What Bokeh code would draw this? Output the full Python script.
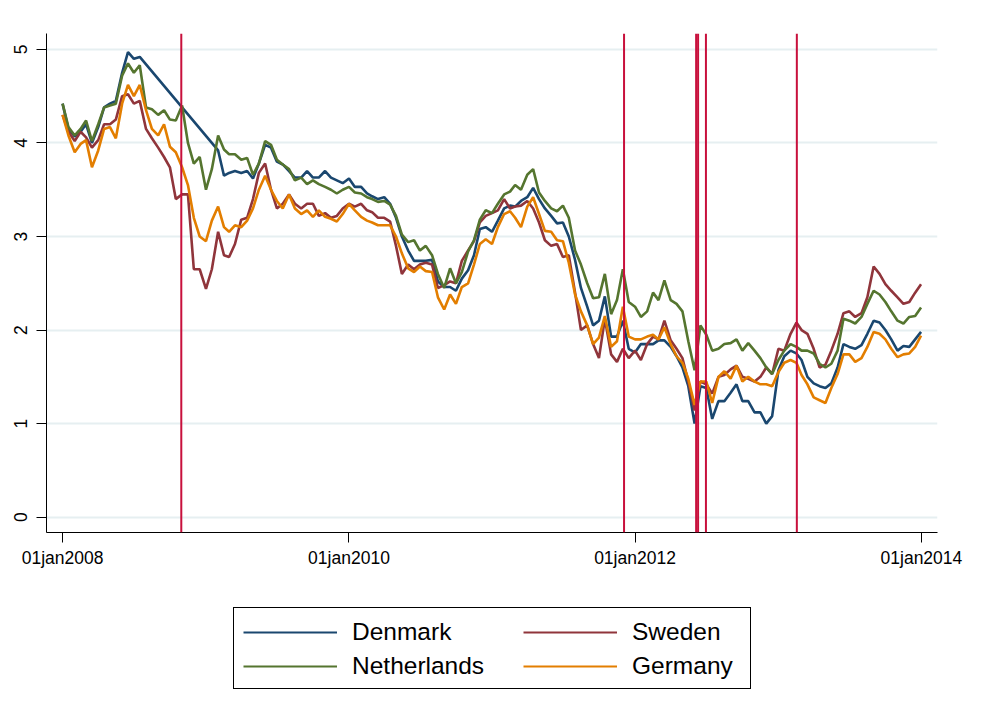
from datetime import datetime
import pandas as pd
from bokeh.plotting import figure
from bokeh.layouts import column
from bokeh.models import (ColumnDataSource, Range1d, FixedTicker, Span, Legend, LegendItem)
from bokeh.embed import file_html
from bokeh.resources import INLINE

# ---------------- data (semi-monthly) ----------------
dates = [f"{y}-{m:02d}-{d:02d}" for y in range(2008, 2014) for m in range(1, 13) for d in (1, 16)] + ["2013-12-31"]

denmark = [
    4.42, 4.15, 4.07, 4.12, 4.20, 4.00, 4.17, 4.38, 4.42, 4.45, 4.75, 4.97,
    4.90, 4.92, None, None, None, None, None, None, None, None, None, None,
    None, None, 3.92, 3.65, 3.68, 3.70, 3.68, 3.70, 3.62, 3.78, 3.98, 3.95,
    3.80, 3.77, 3.70, 3.63, 3.63, 3.70, 3.63, 3.63, 3.70, 3.63, 3.60, 3.57,
    3.62, 3.53, 3.53, 3.46, 3.43, 3.40, 3.42, 3.35, 3.20, 3.00, 2.85, 2.74,
    2.74, 2.74, 2.75, 2.52, 2.46, 2.46, 2.42, 2.55, 2.64, 2.80, 3.08, 3.10,
    3.05, 3.17, 3.30, 3.33, 3.32, 3.38, 3.42, 3.52, 3.40, 3.30, 3.22, 3.14,
    3.15, 3.00, 2.75, 2.45, 2.25, 2.05, 2.10, 2.36, 1.93, 1.93, 2.10, 1.80,
    1.76, 1.85, 1.85, 1.85, 1.89, 1.89, 1.82, 1.72, 1.60, 1.40, 1.00, 1.40,
    1.38, 1.05, 1.24, 1.24, 1.33, 1.42, 1.24, 1.24, 1.12, 1.12, 1.00, 1.08,
    1.57, 1.72, 1.78, 1.75, 1.68, 1.50, 1.43, 1.40, 1.38, 1.43, 1.60, 1.85,
    1.82, 1.80, 1.84, 1.96, 2.10, 2.08, 2.00, 1.90, 1.78, 1.83, 1.82, 1.90,
    1.98,
]
sweden = [
    4.30, 4.12, 4.02, 4.12, 4.06, 3.95, 4.03, 4.20, 4.20, 4.25, 4.50, 4.52,
    4.42, 4.45, 4.15, 4.05, 3.95, 3.85, 3.74, 3.40, 3.45, 3.45, 2.65, 2.65,
    2.44, 2.65, 3.05, 2.80, 2.78, 2.92, 3.18, 3.20, 3.40, 3.68, 3.78, 3.50,
    3.30, 3.35, 3.45, 3.35, 3.30, 3.35, 3.35, 3.22, 3.25, 3.20, 3.22, 3.30,
    3.35, 3.32, 3.35, 3.28, 3.26, 3.20, 3.20, 3.16, 2.90, 2.60, 2.70, 2.65,
    2.70, 2.72, 2.70, 2.45, 2.48, 2.52, 2.50, 2.74, 2.85, 2.95, 3.15, 3.22,
    3.25, 3.28, 3.40, 3.30, 3.32, 3.33, 3.38, 3.30, 3.15, 2.96, 2.90, 2.92,
    2.78, 2.80, 2.40, 2.00, 2.05, 1.85, 1.70, 2.12, 1.74, 1.66, 1.80, 1.70,
    1.78, 1.68, 1.85, 1.93, 1.90, 2.10, 1.89, 1.80, 1.70, 1.45, 1.14, 1.45,
    1.42, 1.32, 1.50, 1.52, 1.58, 1.62, 1.50, 1.48, 1.45, 1.50, 1.60, 1.53,
    1.80, 1.78, 1.96, 2.08, 2.00, 1.96, 1.80, 1.60, 1.63, 1.78, 1.96, 2.18,
    2.20, 2.14, 2.18, 2.35, 2.68, 2.60, 2.49, 2.42, 2.35, 2.28, 2.30, 2.40,
    2.49,
]
netherlands = [
    4.42, 4.17, 4.08, 4.15, 4.24, 4.02, 4.20, 4.38, 4.40, 4.42, 4.72, 4.85,
    4.75, 4.83, 4.38, 4.36, 4.30, 4.35, 4.25, 4.24, 4.40, 4.00, 3.78, 3.85,
    3.50, 3.72, 4.08, 3.93, 3.88, 3.88, 3.82, 3.84, 3.66, 3.78, 4.02, 3.98,
    3.82, 3.77, 3.72, 3.60, 3.63, 3.56, 3.60, 3.56, 3.53, 3.50, 3.46, 3.50,
    3.53, 3.47, 3.46, 3.42, 3.40, 3.37, 3.38, 3.34, 3.22, 3.02, 2.94, 2.96,
    2.85, 2.90, 2.80, 2.60, 2.45, 2.66, 2.50, 2.62, 2.84, 2.96, 3.18, 3.28,
    3.25, 3.35, 3.45, 3.48, 3.55, 3.50, 3.66, 3.72, 3.47, 3.38, 3.30, 3.27,
    3.33, 3.20, 2.85, 2.70, 2.50, 2.34, 2.35, 2.60, 2.17, 2.32, 2.65, 2.30,
    2.25, 2.14, 2.20, 2.40, 2.32, 2.53, 2.32, 2.28, 2.20, 1.88, 1.57, 2.05,
    1.95, 1.78, 1.80, 1.85, 1.86, 1.90, 1.78, 1.86, 1.78, 1.70, 1.60, 1.53,
    1.68, 1.78, 1.85, 1.82, 1.78, 1.78, 1.75, 1.64, 1.60, 1.64, 1.78, 2.12,
    2.10, 2.07, 2.14, 2.28, 2.42, 2.38, 2.30, 2.20, 2.10, 2.07, 2.14, 2.15,
    2.24,
]
germany = [
    4.30, 4.08, 3.90, 3.99, 4.03, 3.74, 3.92, 4.15, 4.17, 4.05, 4.42, 4.62,
    4.50, 4.62, 4.35, 4.15, 4.08, 4.20, 3.96, 3.90, 3.74, 3.55, 3.20, 3.00,
    2.95, 3.17, 3.32, 3.10, 3.05, 3.12, 3.10, 3.17, 3.30, 3.50, 3.65, 3.50,
    3.38, 3.30, 3.45, 3.30, 3.24, 3.28, 3.21, 3.28, 3.21, 3.19, 3.16, 3.24,
    3.35, 3.28, 3.21, 3.17, 3.15, 3.12, 3.12, 3.12, 3.00, 2.82, 2.66, 2.62,
    2.68, 2.63, 2.62, 2.35, 2.22, 2.38, 2.28, 2.46, 2.50, 2.70, 2.92, 2.97,
    2.92, 3.10, 3.24, 3.27, 3.20, 3.10, 3.32, 3.42, 3.24, 3.06, 3.05, 2.96,
    2.95, 2.72, 2.38, 2.20, 2.05, 1.85, 1.92, 2.15, 1.82, 1.88, 2.25, 1.93,
    1.90, 1.90, 1.93, 1.95, 1.90, 2.03, 1.85, 1.72, 1.65, 1.48, 1.20, 1.45,
    1.45, 1.22, 1.50, 1.56, 1.48, 1.62, 1.45, 1.50, 1.45, 1.42, 1.42, 1.40,
    1.55, 1.65, 1.68, 1.65, 1.52, 1.42, 1.28, 1.25, 1.22, 1.38, 1.53, 1.74,
    1.74, 1.66, 1.70, 1.82, 1.98, 1.96, 1.90, 1.80, 1.71, 1.74, 1.75, 1.82,
    1.94,
]

event_dates = ["2008-10-30", "2011-12-04", "2012-06-05", "2012-06-10", "2012-06-30", "2013-02-17"]

series_names = ["Denmark", "Sweden", "Netherlands", "Germany"]
series_colors = ["#1a476f", "#90353b", "#55752f", "#e37e00"]

xtick_dates = ["2008-01-01", "2010-01-01", "2012-01-01", "2014-01-01"]
xtick_labels = ["01jan2008", "01jan2010", "01jan2012", "01jan2014"]
ytick_values = [0, 1, 2, 3, 4, 5]

FONT = "Liberation Sans"
W = 980

# ---------------- main chart ----------------
p = figure(width=W, height=578, output_backend="svg", toolbar_location=None,
           x_axis_type="datetime",
           x_range=Range1d(datetime(2007, 11, 21), datetime(2014, 2, 11)),
           y_range=Range1d(-0.164, 5.17),
           min_border_left=46, min_border_right=W - 937, min_border_top=33, min_border_bottom=46)
p.outline_line_color = None
p.background_fill_color = "white"
p.border_fill_color = "white"

dt = pd.to_datetime(dates)
for name, vals, col in zip(series_names, [denmark, sweden, netherlands, germany], series_colors):
    xs = [d for d, v in zip(dt, vals) if v is not None]
    ys = [v for v in vals if v is not None]
    src = ColumnDataSource(dict(x=xs, y=ys))
    p.line("x", "y", source=src, line_color=col, line_width=2.6)

for ed in event_dates:
    p.add_layout(Span(location=pd.Timestamp(ed), dimension="height",
                      line_color="#c8103c", line_width=2))

tick_ms = [int(pd.Timestamp(d).value // 10**6) for d in xtick_dates]
p.xaxis.ticker = FixedTicker(ticks=tick_ms)
p.xaxis.major_label_overrides = {t: l for t, l in zip(tick_ms, xtick_labels)}
p.yaxis.ticker = FixedTicker(ticks=ytick_values)
p.yaxis.major_label_orientation = "vertical"
for ax in (p.xaxis, p.yaxis):
    ax.axis_line_color = "black"
    ax.axis_line_width = 1
    ax.major_tick_line_color = "black"
    ax.major_tick_out = 10
    ax.major_tick_in = 0
    ax.minor_tick_line_color = None
    ax.major_label_text_font = FONT
    ax.major_label_text_font_size = "17.5px"
    ax.major_label_text_color = "black"
p.xaxis.major_label_standoff = 5
p.yaxis.major_label_standoff = 9

p.xgrid.grid_line_color = None
p.ygrid.ticker = FixedTicker(ticks=ytick_values)
p.ygrid.grid_line_color = "#e6eff1"
p.ygrid.grid_line_width = 2

# ---------------- legend strip (its frame is aligned with the chart frame) ----------------
LH = 137
q = figure(width=W, height=LH, output_backend="svg", toolbar_location=None,
           x_range=Range1d(0, 1), y_range=Range1d(0, 1),
           x_axis_location=None, y_axis_location=None, min_border=0)
q.outline_line_color = None
q.xgrid.grid_line_color = None
q.ygrid.grid_line_color = None

nan = float("nan")
key_renderers = [q.line([nan], [nan], line_color=c, line_width=2) for c in series_colors]
frame_box = q.line([nan], [nan], line_alpha=0)

box_legend = Legend(items=[LegendItem(label=" ", renderers=[frame_box])],
                    location=(187, 26), glyph_width=496, glyph_height=60,
                    label_standoff=0, label_width=0, padding=10, margin=0,
                    border_line_color="black", border_line_width=1, border_line_alpha=1,
                    background_fill_color="white", background_fill_alpha=1,
                    label_text_font_size="10px")
q.add_layout(box_legend, "center")

row_specs = [((197, 69), [0, 1]), ((197, 35), [2, 3])]
for loc, idx in row_specs:
    lg = Legend(items=[LegendItem(label=series_names[i], renderers=[key_renderers[i]]) for i in idx],
                location=loc, orientation="horizontal",
                glyph_width=94, glyph_height=28, label_height=28, label_width=133,
                label_standoff=15, spacing=38, padding=0, margin=0,
                label_text_font=FONT, label_text_font_size="24.5px", label_text_color="black",
                border_line_color=None, background_fill_alpha=0)
    q.add_layout(lg, "center")

layout = column(p, q, spacing=0)
open("out.html", "w").write(file_html(layout, INLINE))
